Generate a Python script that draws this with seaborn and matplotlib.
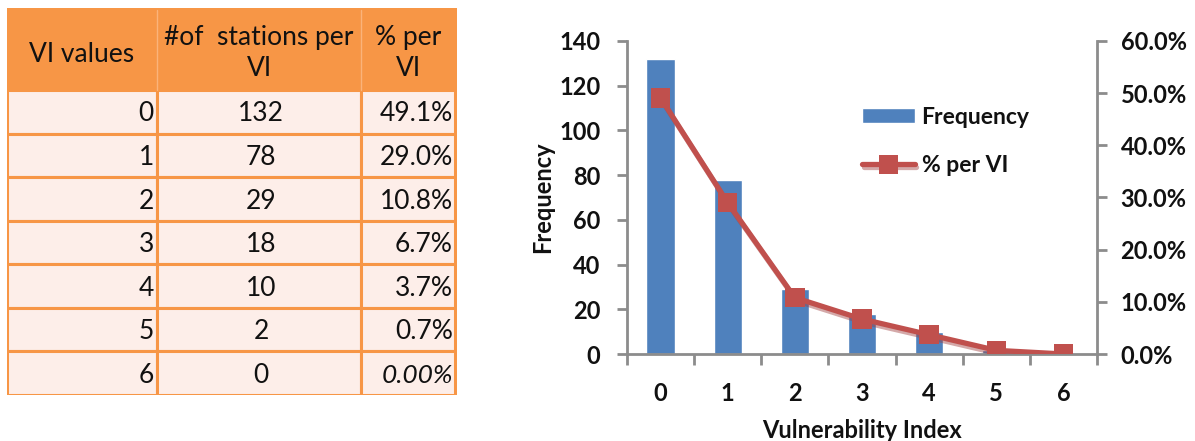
import matplotlib
matplotlib.use("Agg")
import matplotlib.pyplot as plt
import matplotlib.patheffects as pe
from matplotlib.patches import Rectangle
from matplotlib.ticker import FuncFormatter
import seaborn as sns
import pandas as pd

# Station counts and shares per Vulnerability Index value
vi_values = [0, 1, 2, 3, 4, 5, 6]
stations = [132, 78, 29, 18, 10, 2, 0]
pct_per_vi = [49.1, 29.0, 10.8, 6.7, 3.7, 0.7, 0.0]
pct_labels = ["49.1%", "29.0%", "10.8%", "6.7%", "3.7%", "0.7%", "0.00%"]
header = ["VI values", "#of  stations per\nVI", "% per\nVI"]
freq_ticks = [0, 20, 40, 60, 80, 100, 120, 140]
pct_ticks = [0.0, 0.1, 0.2, 0.3, 0.4, 0.5, 0.6]

sns.set_theme(style="white")
plt.rcParams["font.family"] = ["Lato", "DejaVu Sans"]

W, H = 1195, 441
fig = plt.figure(figsize=(W / 100, H / 100), dpi=100)

# ---------------- summary table ----------------
orange = "#F79646"
pale = "#FDEEE9"
tax = fig.add_axes([7 / W, 46 / H, 450 / W, 387 / H])
tax.set_xlim(0, 450)
tax.set_ylim(387, 0)
tax.axis("off")

col_edges = [0, 150, 354, 448]
head_h = 82
row_h = (387 - head_h) / len(vi_values)

tax.add_patch(Rectangle((0, 0), col_edges[-1], head_h, facecolor=orange,
                        edgecolor=orange, lw=2.2, zorder=1))
for c in range(1, 3):
    tax.plot([col_edges[c]] * 2, [2, head_h], color="#FBB37A", lw=1, zorder=2)

for i in range(len(vi_values)):
    y0 = head_h + i * row_h
    for c in range(3):
        tax.add_patch(Rectangle((col_edges[c], y0), col_edges[c + 1] - col_edges[c],
                                row_h, facecolor=pale, edgecolor=orange, lw=2.2,
                                zorder=1))

tfs = 19
txt_col = "#111111"
tax.text((col_edges[0] + col_edges[1]) / 2, 46, header[0], ha="center",
         va="center", fontsize=tfs, color=txt_col)
tax.text((col_edges[1] + col_edges[2]) / 2, 45, header[1], ha="center",
         va="center", fontsize=tfs, color=txt_col, linespacing=1.3)
tax.text((col_edges[2] + col_edges[3]) / 2, 45, header[2], ha="center",
         va="center", fontsize=tfs, color=txt_col, linespacing=1.3)

for i, (v, n, p) in enumerate(zip(vi_values, stations, pct_labels)):
    yc = head_h + (i + 0.55) * row_h
    tax.text(col_edges[1] - 3, yc, str(v), ha="right", va="center",
             fontsize=tfs, color=txt_col)
    tax.text((col_edges[1] + col_edges[2]) / 2 + 2, yc, str(n), ha="center",
             va="center", fontsize=tfs, color=txt_col)
    tax.text(col_edges[3] - 2, yc, p, ha="right", va="center", fontsize=tfs,
             color=txt_col, style="italic" if p == "0.00%" else "normal")

# ---------------- frequency chart ----------------
gray = "#8C8C8C"
df = pd.DataFrame({"VI": vi_values, "Frequency": stations,
                   "Share": [p / 100 for p in pct_per_vi]})

ax = fig.add_axes([627 / W, 87 / H, 470 / W, 313 / H])
sns.barplot(data=df, x="VI", y="Frequency", color="#4F81BD", saturation=1,
            width=0.42, ax=ax, label="Frequency")
ax.set_xlim(-0.5, 6.5)
ax.set_ylim(0, 140)

ax2 = ax.twinx()
sns.lineplot(data=df, x="VI", y="Share", ax=ax2, color="#C0504D", lw=3.8,
             marker="s", markersize=14, markeredgewidth=0, label="% per VI",
             path_effects=[pe.SimpleLineShadow(offset=(1.2, -2.2),
                                               shadow_color="#A04040", alpha=0.45),
                           pe.Normal()])
ax2.set_ylim(0, 0.6)
ax2.set_xlim(-0.5, 6.5)

# spines
for s in ["top", "right"]:
    ax.spines[s].set_visible(False)
for s in ["left", "bottom"]:
    ax.spines[s].set_color(gray)
    ax.spines[s].set_linewidth(2)
for s in ["top", "left", "bottom"]:
    ax2.spines[s].set_visible(False)
ax2.spines["right"].set_color(gray)
ax2.spines["right"].set_linewidth(2)

# ticks
lab_fs = 17
ax.set_yticks(freq_ticks)
ax.set_yticklabels([str(t) for t in freq_ticks], fontweight="bold", fontsize=lab_fs)
ax.tick_params(axis="y", left=True, direction="out", length=7, width=2,
               color=gray, pad=12, labelcolor=txt_col)
ax.set_xticks(range(len(vi_values)))
ax.set_xticklabels([str(v) for v in vi_values], fontweight="bold", fontsize=lab_fs)
ax.set_xticks([x - 0.5 for x in range(len(vi_values) + 1)], minor=True)
ax.tick_params(axis="x", which="major", bottom=True, length=0, pad=20,
               labelcolor=txt_col)
ax.tick_params(axis="x", which="minor", bottom=True, direction="out", length=8,
               width=2, color=gray)

ax2.set_yticks(pct_ticks)
ax2.yaxis.set_major_formatter(FuncFormatter(lambda v, _: f"{v * 100:.1f}%"))
ax2.tick_params(axis="y", right=True, direction="out", length=7, width=2,
                color=gray, pad=10, labelsize=lab_fs, labelcolor=txt_col)
for lbl in ax2.get_yticklabels():
    lbl.set_fontweight("bold")

ax.set_xlabel("Vulnerability Index", fontsize=17, fontweight="bold", labelpad=10,
              color=txt_col)
ax.set_ylabel("Frequency", fontsize=17, fontweight="bold", labelpad=4,
              color=txt_col)
ax2.set_ylabel("")

# combined legend
h1, l1 = ax.get_legend_handles_labels()
h2, l2 = ax2.get_legend_handles_labels()
if ax.get_legend() is not None:
    ax.get_legend().remove()
if ax2.get_legend() is not None:
    ax2.get_legend().remove()
leg = ax2.legend(h1 + h2, l1 + l2, loc="upper left", bbox_to_anchor=(0.5, 0.79),
                 frameon=False, fontsize=16.5, handlelength=2.3, handleheight=0.65,
                 labelspacing=1.2, handletextpad=0.3, borderpad=0,
                 borderaxespad=0)
for t in leg.get_texts():
    t.set_fontweight("bold")
    t.set_color(txt_col)

fig.savefig("out.png", dpi=100)
